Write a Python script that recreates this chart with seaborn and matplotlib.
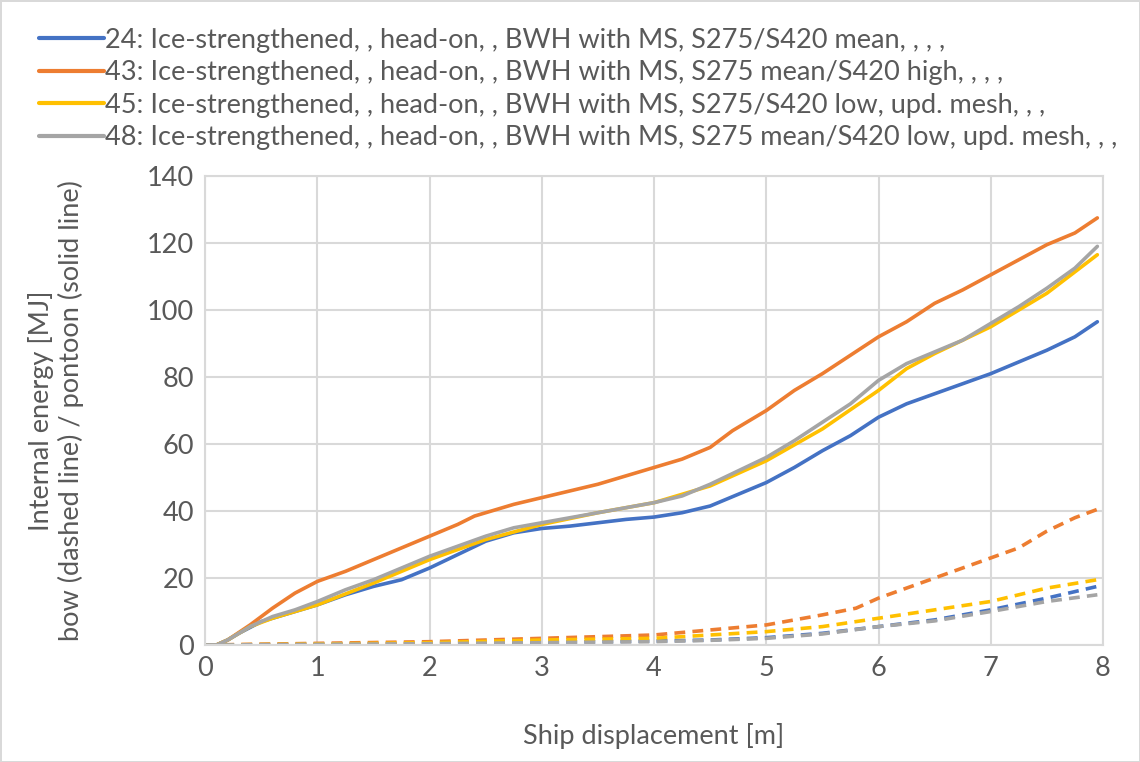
import numpy as np
import pandas as pd
import matplotlib
matplotlib.use("Agg")
import matplotlib.pyplot as plt
from matplotlib.lines import Line2D
import seaborn as sns

# series labels (legend) and colours
labels = [
    "24: Ice-strengthened, , head-on, , BWH with MS, S275/S420 mean, , , ,",
    "43: Ice-strengthened, , head-on, , BWH with MS, S275 mean/S420 high, , , ,",
    "45: Ice-strengthened, , head-on, , BWH with MS, S275/S420 low, upd. mesh, , ,",
    "48: Ice-strengthened, , head-on, , BWH with MS, S275 mean/S420 low, upd. mesh, , ,",
]
colors = ["#4472C4", "#ED7D31", "#FFC000", "#A5A5A5"]

# pontoon (solid lines)
x24 = [0, 0.1, 0.2, 0.3, 0.5, 0.75, 1, 1.25, 1.5, 1.75, 2, 2.25, 2.5, 2.75, 3, 3.25, 3.5, 3.75, 4,
       4.25, 4.5, 4.75, 5, 5.25, 5.5, 5.75, 6, 6.25, 6.5, 6.75, 7, 7.25, 7.5, 7.75, 7.95]
y24 = [0, 0, 1.5, 3.5, 7, 9.5, 12, 15, 17.5, 19.5, 23, 27, 31, 33.5, 34.8, 35.5, 36.5, 37.5, 38.2,
       39.5, 41.5, 45, 48.5, 53, 58, 62.5, 68, 72, 75, 78, 81, 84.5, 88, 92, 96.5]

x43 = [0, 0.1, 0.2, 0.4, 0.6, 0.8, 1, 1.25, 1.5, 1.75, 2, 2.25, 2.4, 2.5, 2.75, 3, 3.25, 3.5, 3.75, 4,
       4.25, 4.5, 4.7, 5, 5.25, 5.5, 5.75, 6, 6.25, 6.5, 6.75, 7, 7.25, 7.5, 7.75, 7.95]
y43 = [0, 0, 1.5, 6, 11, 15.5, 19, 22, 25.5, 29, 32.5, 36, 38.5, 39.5, 42, 44, 46, 48, 50.5, 53,
       55.5, 59, 64, 70, 76, 81, 86.5, 92, 96.5, 102, 106, 110.5, 115, 119.5, 123, 127.5]

x45 = [0, 0.1, 0.2, 0.4, 0.6, 0.8, 1, 1.5, 2, 2.5, 3, 3.5, 4, 4.5, 5, 5.5, 6, 6.25, 6.5, 7, 7.5, 7.95]
y45 = [0, 0, 1.5, 5.5, 8, 10, 12, 18.5, 25.5, 31.5, 36, 39.5, 42.5, 47.5, 55, 64.5, 76, 82.5, 87,
       95, 105, 116.5]

x48 = [0, 0.1, 0.2, 0.4, 0.6, 0.8, 1, 1.25, 1.5, 1.75, 2, 2.25, 2.5, 2.75, 3, 3.25, 3.5, 3.75, 4,
       4.25, 4.5, 4.75, 5, 5.25, 5.5, 5.75, 6, 6.25, 6.5, 6.75, 7, 7.25, 7.5, 7.75, 7.95]
y48 = [0, 0, 1.5, 5.5, 8.5, 10.5, 13, 16.5, 19.5, 23, 26.5, 29.5, 32.5, 35, 36.5, 38, 39.5, 41, 42.5,
       44.5, 48, 52, 56, 61, 66.5, 72, 79, 84, 87.5, 91, 96, 101, 106.5, 112.5, 119]

# bow (dashed lines)
bx = [0, 1, 2, 3, 4, 4.5, 5, 5.5, 6, 6.5, 7, 7.5, 7.95]
b24 = [0, 0.2, 0.5, 0.8, 1.2, 1.5, 2.2, 3.5, 5.5, 7.5, 10.5, 14, 17.5]
b45 = [0, 0.3, 0.7, 1.5, 2, 3, 4, 5.5, 8, 10.5, 13, 17, 19.5]
b48 = [0, 0.2, 0.4, 0.7, 1, 1.4, 2, 3.3, 5.5, 7.2, 10, 13, 15]
bx43 = [0, 1, 2, 2.5, 3, 3.5, 4, 4.5, 5, 5.5, 5.8, 6, 6.5, 7, 7.25, 7.5, 7.75, 7.95]
b43 = [0, 0.5, 1, 1.5, 2, 2.5, 3, 4.5, 6, 9, 11, 14, 20, 26, 29, 34, 38, 40.5]

solid = [(x24, y24), (x43, y43), (x45, y45), (x48, y48)]
dashed = [(bx, b24), (bx43, b43), (bx, b45), (bx, b48)]

rows = []
for lab, (xs, ys) in zip(labels, solid):
    rows += [dict(series=lab, part="pontoon", x=a, y=b) for a, b in zip(xs, ys)]
for lab, (xs, ys) in zip(labels, dashed):
    rows += [dict(series=lab, part="bow", x=a, y=b) for a, b in zip(xs, ys)]
df = pd.DataFrame(rows)

sns.set_style("white")
plt.rcParams['font.family'] = ['Lato', 'DejaVu Sans']
txt = "#595959"
fs = 19.5

fig = plt.figure(figsize=(11.4, 7.62), dpi=100)
ax = fig.add_axes([0.18, 0.1535, 0.7875, 0.6155])

sns.lineplot(data=df, x="x", y="y", hue="series", style="part",
             palette=dict(zip(labels, colors)),
             dashes={"pontoon": "", "bow": (3, 2)},
             linewidth=2.6, sort=False, legend=False, ax=ax)

ax.set_xlim(0, 8)
ax.set_ylim(0, 140)
ax.set_xticks(range(0, 9))
ax.set_yticks(range(0, 141, 20))
ax.grid(True, color="#D9D9D9", linewidth=1.5)
for s in ax.spines.values():
    s.set_color("#D9D9D9")
    s.set_linewidth(1.5)
ax.tick_params(axis="both", labelsize=fs, colors=txt, length=0, pad=8)
ax.set_xlabel("Ship displacement [m]", fontsize=fs, color=txt, labelpad=30)
ax.set_ylabel("Internal energy [MJ]\nbow (dashed line) / pontoon (solid line)",
              fontsize=fs, color=txt, labelpad=45, linespacing=1.2)

handles = [Line2D([0], [0], color=c, lw=3) for c in colors]
fig.legend(handles, labels, loc="upper left", bbox_to_anchor=(0.02, 0.985),
           frameon=False, fontsize=fs, handlelength=2.4, handletextpad=0.05,
           labelspacing=0.28, labelcolor=txt, borderaxespad=0.2)

fig.patch.set_edgecolor("#D9D9D9")
fig.patch.set_linewidth(2)

fig.savefig("out.png", dpi=100)
